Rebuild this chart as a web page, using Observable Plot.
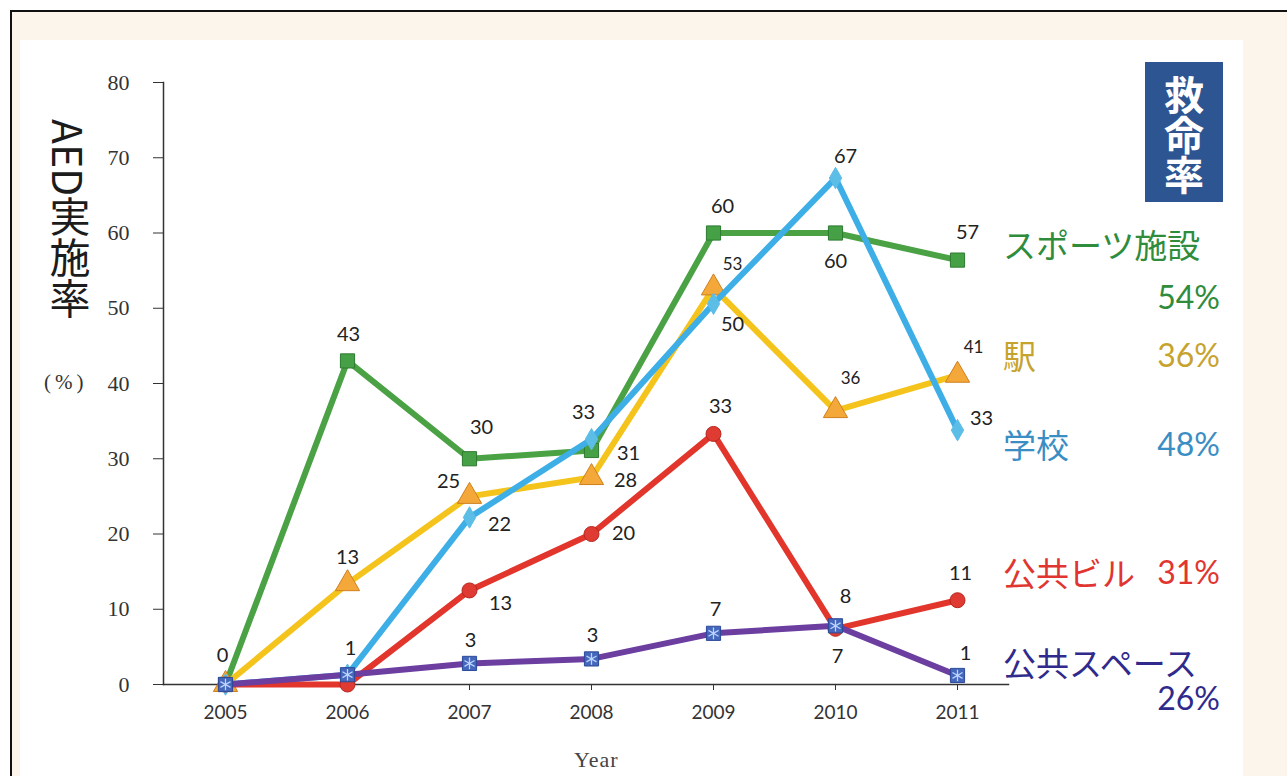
<!DOCTYPE html>
<html>
<head>
<meta charset="utf-8">
<script src="https://cdn.jsdelivr.net/npm/d3@7"></script>
<script src="https://cdn.jsdelivr.net/npm/@observablehq/plot@0.6"></script>
<style>
  html, body { margin: 0; padding: 0; width: 1287px; height: 776px; overflow: hidden; background: #ffffff; }
  .abs { position: absolute; white-space: nowrap; }
  .jp { font-family: "Noto Sans CJK JP", "Noto Sans", sans-serif; }
  .pct { font-family: Lato, "Open Sans", sans-serif; }
</style>
</head>
<body>
<div class="abs" style="left:10px;top:10px;width:1290px;height:780px;border-left:2px solid #111;border-top:2px solid #111;background:#fcf5ec;"></div>
<div class="abs" style="left:20px;top:40px;width:1223px;height:740px;background:#ffffff;"></div>
<div id="chart" class="abs" style="left:20px;top:40px;"></div>

<div class="abs jp" style="left:49px;top:119px;writing-mode:vertical-rl;font-size:41px;line-height:42px;color:#1c1c1c;">AED実施率</div>
<div class="abs" style="left:44px;top:370px;font-family:'Liberation Serif',serif;font-size:21px;line-height:24px;letter-spacing:4px;color:#333;">(%)</div>
<div class="abs" style="left:574px;top:747px;font-family:'Liberation Serif',serif;font-size:22px;line-height:26px;letter-spacing:1px;color:#444;">Year</div>

<div class="abs jp" style="left:1145px;top:62px;width:78px;height:140px;background:#2d5592;color:#fff;font-weight:700;font-size:40px;line-height:78px;writing-mode:vertical-rl;text-align:center;"><span style="display:inline-block;padding-top:6px;">救命率</span></div>

<div id="legend"></div>

<script>
// ---- data ----
const years = [2005, 2006, 2007, 2008, 2009, 2010, 2011];
const yTicks = [0, 10, 20, 30, 40, 50, 60, 70, 80];

const sportsValues = [0, 43, 30, 31.1, 60, 60, 56.4];
const stationValues = [0, 13.4, 25, 27.5, 52.7, 36.4, 41.1];
const schoolValues = [0, 1.3, 22.2, 32.6, 50.6, 67.3, 33.8];
const buildingValues = [0, 0, 12.5, 20, 33.3, 7.4, 11.2];
const spaceValues = [0, 1.3, 2.8, 3.4, 6.8, 7.8, 1.2];

const sportsLabels = ["0", "43", "30", "31", "60", "60", "57"];
const stationLabels = [null, "13", "25", "28", "53", "36", "41"];
const schoolLabels = [null, null, "22", "33", "50", "67", "33"];
const buildingLabels = [null, null, "13", "20", "33", "7", "11"];
const spaceLabels = [null, "1", "3", "3", "7", "8", "1"];

const seriesNames = ["スポーツ施設", "駅", "学校", "公共ビル", "公共スペース"];
const rescueRates = ["54%", "36%", "48%", "31%", "26%"];

// ---- styles ----
const styles = [
  {line: "#4aa245", fill: "#46a046", stroke: "#2e7a31", symbol: "square", r: 8, text: "#2f8c3c",
   offsets: [[-3,-29],[1,-26],[12,-31],[37,3],[9,-26],[0,29],[10,-27]], small: []},
  {line: "#f4c41c", fill: "#f4a83a", stroke: "#cf7f1c", symbol: "triangle", r: 9, text: "#c6a32e",
   offsets: [null,[0,-26],[-21,-15],[34,3],[19,-23],[15,-32],[16,-28]], small: [4,5,6]},
  {line: "#3eaee6", fill: "#5cbde6", stroke: "#5cbde6", symbol: "diamond", r: 6.5, text: "#3a8ec4",
   offsets: [null,null,[30,7],[-8,-27],[19,21],[10,-21],[24,-12]], small: []},
  {line: "#e2352b", fill: "#e03b32", stroke: "#b52720", symbol: "circle", r: 7.5, text: "#e03530",
   offsets: [null,null,[31,13],[32,0],[7,-27],[2,28],[3,-27]], small: []},
  {line: "#6b3ea0", fill: "#4466bb", stroke: "#2d4a9a", symbol: "square", r: 8, text: "#2f2a8c",
   offsets: [null,[3,-26],[1,-23],[1,-23],[2,-24],[10,-29],[8,-22]], small: []}
];

const valueSets = [sportsValues, stationValues, schoolValues, buildingValues, spaceValues];
const labelSets = [sportsLabels, stationLabels, schoolLabels, buildingLabels, spaceLabels];

const series = seriesNames.map((name, i) => ({
  name,
  points: years.map((year, j) => ({year, value: valueSets[i][j], label: labelSets[i][j], j}))
}));

const marks = [];
series.forEach((s, i) => {
  const st = styles[i];
  marks.push(Plot.line(s.points, {x: "year", y: "value", stroke: st.line, strokeWidth: 6, strokeLinejoin: "round", strokeLinecap: "round"}));
  marks.push(Plot.dot(s.points, {x: "year", y: "value", symbol: st.symbol, r: st.r, fill: st.fill, stroke: st.stroke, strokeWidth: 1}));
  if (i === 4) {
    marks.push(Plot.dot(s.points, {x: "year", y: "value", symbol: "asterisk", r: 5.5, stroke: "#bcd4ff", strokeWidth: 1.3}));
  }
});

const labelMarks = [];
series.forEach((s, i) => {
  const st = styles[i];
  s.points.forEach(p => {
    if (p.label == null) return;
    const off = st.offsets[p.j];
    labelMarks.push(Plot.text([p], {
      x: "year", y: "value", text: "label",
      dx: off[0], dy: off[1],
      fill: "#222", fontSize: st.small.includes(p.j) ? 17 : 20,
      fontFamily: "Lato, 'Open Sans', sans-serif"
    }));
  });
});

const chart = Plot.plot({
  width: 1223,
  height: 736,
  marginLeft: 143,
  marginRight: 235,
  marginTop: 42,
  marginBottom: 92,
  style: {background: "transparent", overflow: "visible", fontFamily: "Lato, sans-serif"},
  x: {domain: [2005, 2011], insetLeft: 62, insetRight: 51},
  y: {domain: [0, 80]},
  marks: [
    Plot.axisY({ticks: yTicks, tickSize: 10, tickPadding: 24, fontSize: 22, fontFamily: "'Liberation Serif', serif", color: "#333", label: null}),
    Plot.axisX({ticks: years, tickFormat: "d", tickSize: 6, tickPadding: 15, fontSize: 19, fontFamily: "Lato, sans-serif", color: "#333", label: null}),
    Plot.frame({anchor: "left", stroke: "#333", strokeWidth: 1.5}),
    Plot.frame({anchor: "bottom", stroke: "#333", strokeWidth: 1.5}),
    ...marks,
    ...labelMarks
  ]
});
document.getElementById("chart").appendChild(chart);

// ---- legend (right side) ----
const legendLayout = [
  {nameTop: 228, pctTop: 281},
  {nameTop: 339, pctTop: 339},
  {nameTop: 428, pctTop: 428},
  {nameTop: 556, pctTop: 556},
  {nameTop: 646, pctTop: 682}
];
const legend = document.getElementById("legend");
seriesNames.forEach((name, i) => {
  const c = styles[i].text;
  const lay = legendLayout[i];
  const n = document.createElement("div");
  n.className = "abs jp";
  n.style.cssText = `left:1003px;top:${lay.nameTop}px;font-size:33px;line-height:32px;color:${c};`;
  n.textContent = name;
  legend.appendChild(n);
  const p = document.createElement("div");
  p.className = "abs pct";
  p.style.cssText = `right:67px;top:${lay.pctTop}px;font-size:32px;line-height:32px;color:${c};`;
  p.textContent = rescueRates[i];
  legend.appendChild(p);
});
</script>
</body>
</html>
